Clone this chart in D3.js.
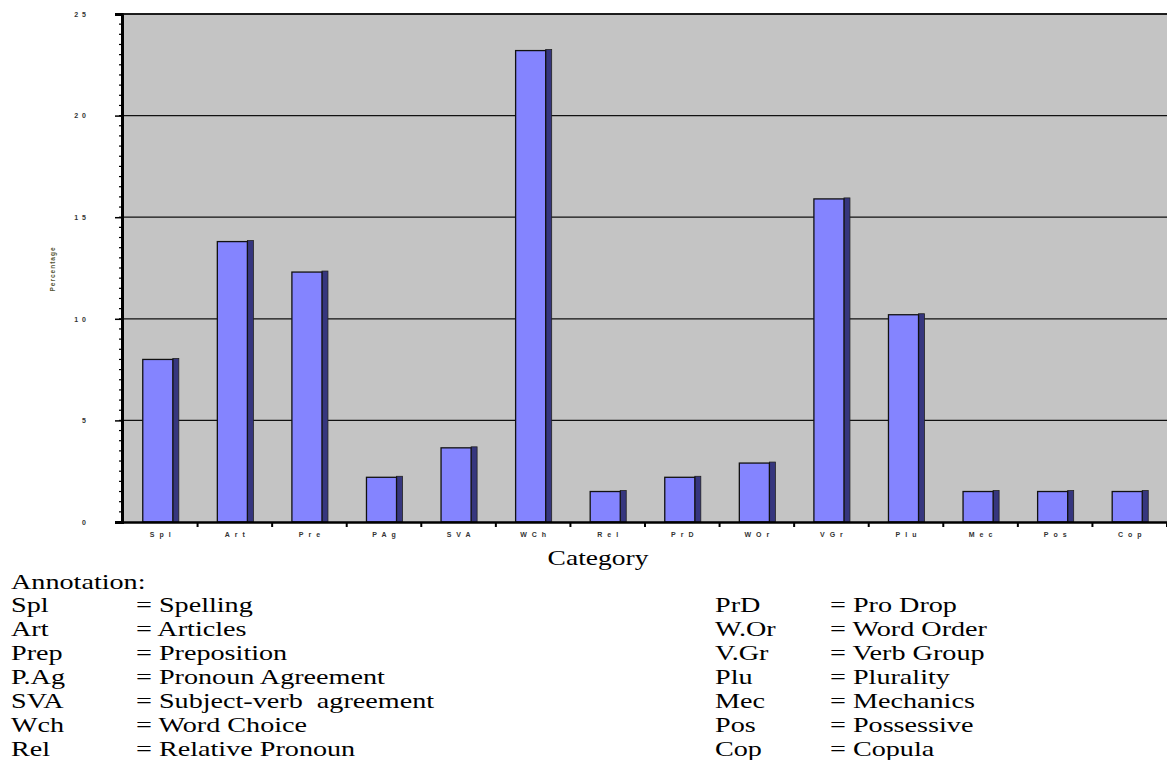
<!DOCTYPE html>
<html><head><meta charset="utf-8">
<script src="https://cdn.jsdelivr.net/npm/d3@7"></script>
<style>body{margin:0;background:#fff}svg{display:block}</style>
</head><body>
<svg id="c" width="1167" height="760"></svg>
<script>
const categories = ["Spl","Art","Pre","P.Ag","SVA","Wch","Rel","PrD","W.Or","V.Gr","Plu","Mec","Pos","Cop"];
const tickLabels = ["Spl","Art","Pre","PAg","SVA","WCh","Rel","PrD","WOr","VGr","Plu","Mec","Pos","Cop"];
const values = [8.0,13.8,12.3,2.2,3.65,23.2,1.5,2.2,2.9,15.9,10.2,1.5,1.5,1.5];
const yTicks = [0,5,10,15,20,25];
const yTickLabels = ["0","5","10","15","20","25"];
const annLeft = [["Spl","= Spelling"],["Art","= Articles"],["Prep","= Preposition"],["P.Ag","= Pronoun Agreement"],["SVA","= Subject-verb  agreement"],["Wch","= Word Choice"],["Rel","= Relative Pronoun"]];
const annRight = [["PrD","= Pro Drop"],["W.Or","= Word Order"],["V.Gr","= Verb Group"],["Plu","= Plurality"],["Mec","= Mechanics"],["Pos","= Possessive"],["Cop","= Copula"]];

const svg = d3.select("#c");
const L = 123, R = 1167, T = 14, B = 522;
const x = d3.scaleBand().domain(categories).range([L, R]).paddingInner(0.53).paddingOuter(0.265);
const xb = d3.scaleBand().domain(categories).range([L, R]);
const y = d3.scaleLinear().domain([0,25]).range([B, T]);

svg.append("rect").attr("x",L).attr("y",T).attr("width",R-L).attr("height",B-T).attr("fill","#c4c4c4");
svg.append("g").selectAll("line").data(yTicks.filter(d=>d>0)).join("line")
  .attr("x1",L).attr("x2",R).attr("y1",d=>y(d)).attr("y2",d=>y(d))
  .attr("stroke","#111").attr("stroke-width",1.3);

// bars with 3D side
const g = svg.append("g");
const bw = x.bandwidth();
const side = 5;
g.selectAll("rect.side").data(values).join("rect")
  .attr("x",(d,i)=>x(categories[i])+bw-side).attr("y",d=>y(d)-1)
  .attr("width",side+1).attr("height",d=>B-y(d)+1)
  .attr("fill","#36367e").attr("stroke","#222").attr("stroke-width",0.8);
g.selectAll("rect.front").data(values).join("rect")
  .attr("x",(d,i)=>x(categories[i])).attr("y",d=>y(d))
  .attr("width",bw-side).attr("height",d=>B-y(d))
  .attr("fill","#8484ff").attr("stroke","#111").attr("stroke-width",1.3);

// y axis with minor ticks
const yAxis = d3.axisLeft(y).tickValues(yTicks).tickSize(7).tickFormat((d,i)=>yTickLabels[i]);
const ya = svg.append("g").attr("transform",`translate(${L-1},0)`).call(yAxis);
ya.select(".domain").attr("stroke","#000").attr("stroke-width",3);
ya.selectAll("text").attr("font-family","Arial, Liberation Sans").attr("font-size",7).attr("font-weight","bold")
  .attr("fill","#333").attr("letter-spacing","4px").attr("dx",-22);
ya.selectAll("line").attr("stroke","#000").attr("stroke-width",1.5);
const minor = d3.range(0,25.01,0.5);
svg.append("g").selectAll("line").data(minor).join("line")
  .attr("x1",L-4).attr("x2",L).attr("y1",d=>y(d)).attr("y2",d=>y(d))
  .attr("stroke","#000").attr("stroke-width",1.2);

// x axis
const xAxis = d3.axisBottom(xb).tickSize(0).tickFormat((d,i)=>tickLabels[i]);
const xa = svg.append("g").attr("transform",`translate(0,${B})`).call(xAxis);
xa.select(".domain").attr("stroke","#000").attr("stroke-width",2.5);
xa.selectAll("text").attr("font-family","Arial, Liberation Sans").attr("font-size",7).attr("font-weight","bold")
  .attr("fill","#333").attr("letter-spacing","5px").attr("dx",2.5).attr("dy",12);
svg.append("g").selectAll("line").data(categories).join("line")
  .attr("x1",d=>xb(d)+xb.bandwidth()).attr("x2",d=>xb(d)+xb.bandwidth())
  .attr("y1",B).attr("y2",B+5).attr("stroke","#000").attr("stroke-width",2);

// top border
svg.append("line").attr("x1",L).attr("x2",R).attr("y1",T).attr("y2",T).attr("stroke","#111").attr("stroke-width",1.3);

// y label
svg.append("text").attr("transform","translate(55,269) rotate(-90)").attr("text-anchor","middle")
  .attr("font-family","Arial, Liberation Sans").attr("font-size",6.5).attr("font-weight","bold").attr("fill","#553")
  .attr("letter-spacing","1px").text("Percentage");

const serif = "Liberation Serif, Times New Roman, serif";
// x title
svg.append("text").attr("transform","translate(598,565) scale(1.25,1)").attr("text-anchor","middle")
  .attr("font-family",serif).attr("font-size",22).attr("fill","#000").text("Category");

// annotation (horizontally stretched as in the reference)
const sx = 1.31, fs = 21.5;
const ann = svg.append("g").attr("font-family",serif).attr("font-size",fs).attr("fill","#000");
const put = (xx, yy, t) => ann.append("text").attr("transform",`translate(${xx},${yy}) scale(${sx},1)`).style("white-space","pre").text(t);
put(11, 589, "Annotation:");
const lh = 24, y0 = 611.5;
annLeft.forEach((d,i)=>{ put(11, y0+i*lh, d[0]); put(136, y0+i*lh, d[1]); });
annRight.forEach((d,i)=>{ put(715, y0+i*lh, d[0]); put(830, y0+i*lh, d[1]); });
</script>
</body></html>
